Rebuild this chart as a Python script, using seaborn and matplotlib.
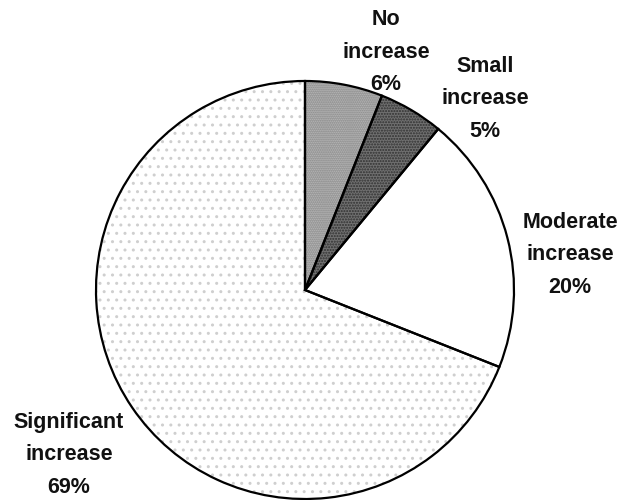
import matplotlib
matplotlib.use("Agg")
import matplotlib.pyplot as plt
import seaborn as sns

sns.set_theme(style="white")
plt.rcParams["font.family"] = ["Liberation Sans", "DejaVu Sans"]

# Share of respondents by level of increase (clockwise from 12 o'clock)
categories = ["No\nincrease", "Small\nincrease", "Moderate\nincrease", "Significant\nincrease"]
shares = [6, 5, 20, 69]

face_colors = ["#c0c0c0", "#707070", "#ffffff", "#ffffff"]
hatch_colors = ["#7c7c7c", "#303030", "#ffffff", "#cfcfcf"]
hatches = ["........", "......", "", ".."]

# label anchors in pixel space (x, y from top)
label_pos = [(386, 52), (485, 99), (570, 255), (69, 455)]

W, H = 621, 500
fig = plt.figure(figsize=(W / 100, H / 100), dpi=100)
ax = fig.add_axes([0, 0, 1, 1])

cx, cy, r = 305, H - 290, 209

# textured fills
wedges, _ = ax.pie(shares, center=(cx, cy), radius=r, startangle=90,
                   counterclock=False, colors=face_colors,
                   wedgeprops=dict(linewidth=0))
plt.rcParams["hatch.linewidth"] = 0.6
for w, hc, hp in zip(wedges, hatch_colors, hatches):
    if hp:
        w.set_hatch(hp)
        w.set_edgecolor(hc)

# black outlines on top
outl, _ = ax.pie(shares, center=(cx, cy), radius=r, startangle=90,
                 counterclock=False,
                 wedgeprops=dict(fill=False, edgecolor="black", linewidth=1.6))

for name, pct, (lx, ly) in zip(categories, shares, label_pos):
    ax.text(lx, H - ly, f"{name}\n{pct}%", ha="center", va="center",
            fontsize=15.5, fontweight="bold", color="#111111", linespacing=1.74)

ax.set_xlim(0, W)
ax.set_ylim(0, H)
ax.set_aspect("equal")
ax.axis("off")

fig.savefig("out.png", dpi=100, facecolor="white")
